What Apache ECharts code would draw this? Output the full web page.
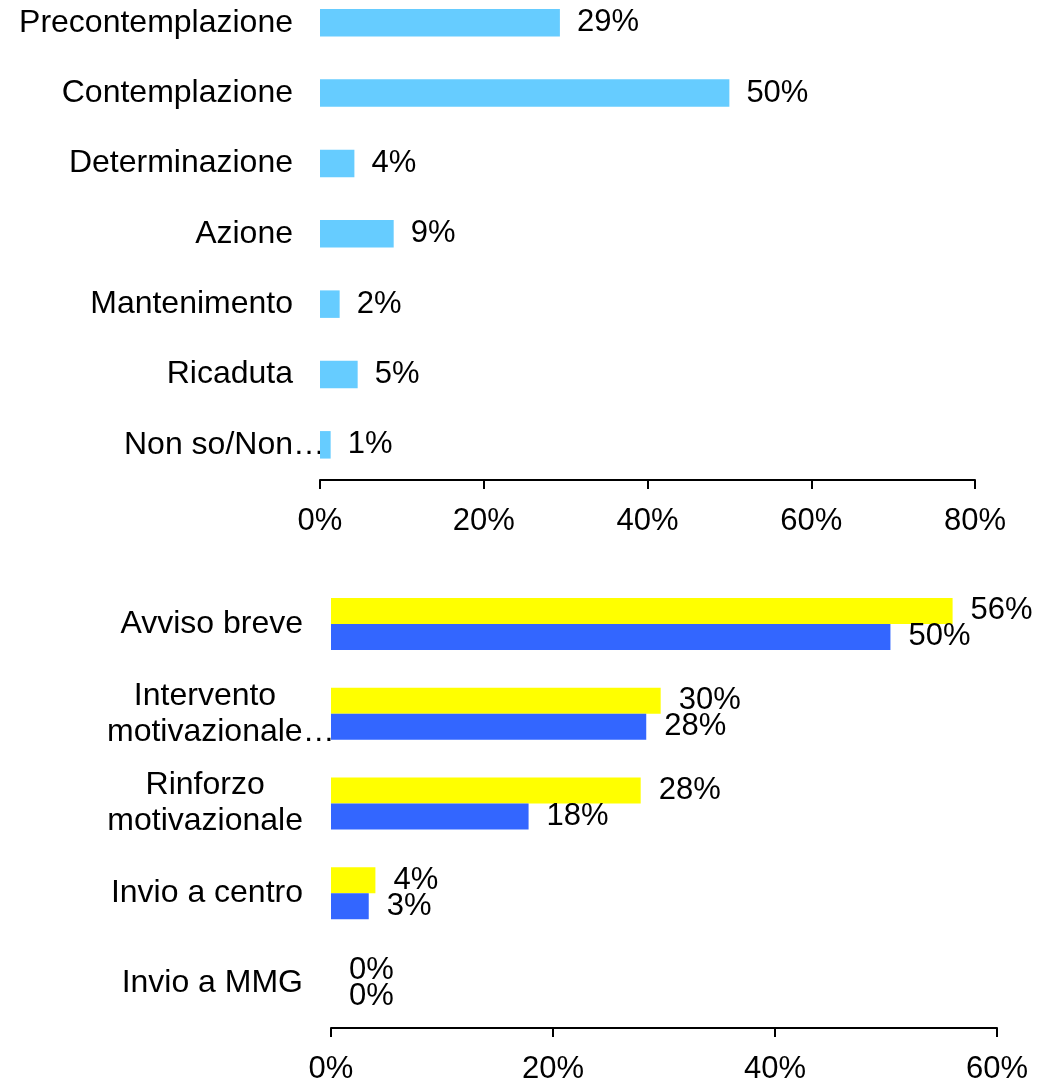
<!DOCTYPE html>
<html><head><meta charset="utf-8">
<script src="https://cdn.jsdelivr.net/npm/echarts@6/dist/echarts.min.js"></script>
<style>html,body{margin:0;padding:0;background:#fff}#c{width:1048px;height:1083px}</style>
</head><body><div id="c"></div>
<script>
// ---- data ----
const stageCategories = ['Precontemplazione', 'Contemplazione', 'Determinazione', 'Azione', 'Mantenimento', 'Ricaduta', 'Non so/Non…'];
const stageValues = [29.3, 50.0, 4.2, 9.0, 2.4, 4.6, 1.3];
const stageTicks = [0, 20, 40, 60, 80];

const interventionCategories = ['Avviso breve', 'Intervento\nmotivazionale…', 'Rinforzo\nmotivazionale', 'Invio a centro', 'Invio a MMG'];
const yellowValues = [56.0, 29.7, 27.9, 4.0, 0];
const blueValues = [50.4, 28.4, 17.8, 3.4, 0];
const interventionTicks = [0, 20, 40, 60];

// ---- styling helpers ----
const FONT = '"Liberation Sans", Arial, sans-serif';
const CAT_SIZE = 32;
const VAL_SIZE = 31;
const canvas = document.createElement('canvas');
const ctx = canvas.getContext('2d');
ctx.font = CAT_SIZE + 'px "Liberation Sans"';

function buildRich(cats, prefix) {
  const rich = { c: { fontSize: CAT_SIZE, fontFamily: FONT, color: '#000', lineHeight: 36, align: 'center' } };
  const map = {};
  cats.forEach((cat, i) => {
    cat.split('\n').forEach((line, j) => {
      if (line.endsWith('…')) {
        const name = prefix + i + 'l' + j;
        rich[name] = { fontSize: CAT_SIZE, fontFamily: FONT, color: '#000', lineHeight: 36, align: 'left',
          width: Math.round(ctx.measureText(line.slice(0, -1)).width) };
        map[i + '_' + j] = name;
      }
    });
  });
  const formatter = (value, idx) => value.split('\n').map((line, j) => {
    const n = map[idx + '_' + j] || 'c';
    return '{' + n + '|' + line + '}';
  }).join('\n');
  return { rich, formatter };
}
const topRich = buildRich(stageCategories, 'a');
const botRich = buildRich(interventionCategories, 'b');

const pct = p => Math.round(p.value) + '%';
const valLabel = (dist) => ({ show: true, position: 'right', distance: dist, formatter: pct,
  fontSize: VAL_SIZE, fontFamily: FONT, color: '#000' });

const xAxisCommon = {
  type: 'value',
  splitLine: { show: false },
  axisLine: { show: true, lineStyle: { color: '#000', width: 2 } },
  axisTick: { show: true, inside: false, length: 9, lineStyle: { color: '#000', width: 2 } },
  axisLabel: { formatter: '{value}%', fontSize: VAL_SIZE, fontFamily: FONT, color: '#000', margin: 26 }
};

const option = {
  animation: false,
  backgroundColor: '#fff',
  grid: [
    { left: 320, width: 655, top: -12.4, height: 492.4, outerBoundsMode: 'none', containLabel: false },
    { left: 331, width: 666, top: 579, height: 449, outerBoundsMode: 'none', containLabel: false }
  ],
  xAxis: [
    Object.assign({}, xAxisCommon, { gridIndex: 0, min: stageTicks[0], max: stageTicks[stageTicks.length - 1], interval: stageTicks[1] - stageTicks[0] }),
    Object.assign({}, xAxisCommon, { gridIndex: 1, min: interventionTicks[0], max: interventionTicks[interventionTicks.length - 1], interval: interventionTicks[1] - interventionTicks[0] })
  ],
  yAxis: [
    { type: 'category', gridIndex: 0, inverse: true, data: stageCategories,
      axisLine: { show: false }, axisTick: { show: false },
      axisLabel: { interval: 0, margin: 27, align: 'right', formatter: topRich.formatter, rich: topRich.rich,
        fontSize: CAT_SIZE, fontFamily: FONT, color: '#000' } },
    { type: 'category', gridIndex: 1, inverse: true, data: interventionCategories,
      axisLine: { show: false }, axisTick: { show: false },
      axisLabel: { interval: 0, margin: 28, align: 'right', formatter: botRich.formatter, rich: botRich.rich,
        fontSize: CAT_SIZE, fontFamily: FONT, color: '#000' } }
  ],
  series: [
    { type: 'bar', name: 'Stadio', xAxisIndex: 0, yAxisIndex: 0, data: stageValues, barWidth: 27.5,
      itemStyle: { color: '#66CCFF' }, label: valLabel(17) },
    { type: 'bar', name: 'Serie A', xAxisIndex: 1, yAxisIndex: 1, data: yellowValues, barWidth: 26, barGap: '0%',
      itemStyle: { color: '#FFFF00' }, label: valLabel(18) },
    { type: 'bar', name: 'Serie B', xAxisIndex: 1, yAxisIndex: 1, data: blueValues, barWidth: 26, barGap: '0%',
      itemStyle: { color: '#3366FF' }, label: valLabel(18) }
  ]
};
const chart = echarts.init(document.getElementById('c'), null, { renderer: 'canvas' });
chart.setOption(option);
</script>
</body></html>
